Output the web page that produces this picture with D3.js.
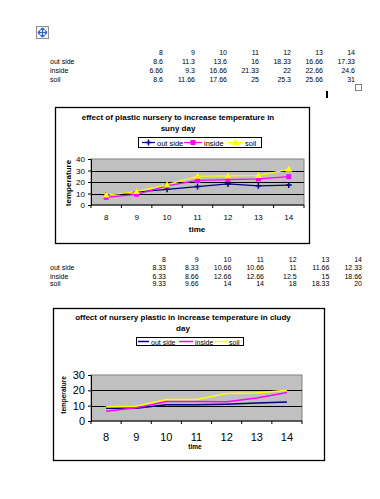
<!DOCTYPE html>
<html>
<head>
<meta charset="utf-8">
<script src="https://cdn.jsdelivr.net/npm/d3@7"></script>
<style>
body { margin: 0; background: #fff; }
svg { display: block; font-family: "Liberation Sans", Arial, sans-serif; }
</style>
</head>
<body>
<script>
const hours = [8, 9, 10, 11, 12, 13, 14];
const seriesNames = ["out side", "inside", "soil"];

// sunny day
const sunnyOutside = [8.6, 11.3, 13.6, 16, 18.33, 16.66, 17.33];
const sunnyInside = [6.66, 9.3, 16.66, 21.33, 22, 22.66, 24.6];
const sunnySoil = [8.6, 11.66, 17.66, 25, 25.3, 25.66, 31];
const sunnyTicks = [0, 10, 20, 30, 40];

// cloudy day
const cloudyOutside = [8.33, 8.33, 10.66, 10.66, 11, 11.66, 12.33];
const cloudyInside = [6.33, 8.66, 12.66, 12.66, 12.5, 15, 18.66];
const cloudySoil = [9.33, 9.66, 14, 14, 18, 18.33, 20];
const cloudyTicks = [0, 10, 20, 30];

const colors = ["#000080", "#ff00ff", "#ffff00"];

const svg = d3.select("body").append("svg")
    .attr("width", 380)
    .attr("height", 499);

// move handle icon
const icon = svg.append("g").attr("transform", "translate(36,26)");
icon.append("rect").attr("x", 0.5).attr("y", 0.5).attr("width", 12).attr("height", 12)
    .attr("fill", "#f4f4f4").attr("stroke", "#909090");
icon.append("path")
    .attr("d", "M6.5,2 V11 M2,6.5 H11 M6.5,2 l-2,2 M6.5,2 l2,2 M6.5,11 l-2,-2 M6.5,11 l2,-2 M2,6.5 l2,-2 M2,6.5 l2,2 M11,6.5 l-2,-2 M11,6.5 l-2,2")
    .attr("stroke", "#2f5fc8").attr("stroke-width", 1.2).attr("fill", "none");

// small resize box + cursor
svg.append("rect").attr("x", 355.5).attr("y", 84.5).attr("width", 6).attr("height", 6)
    .attr("fill", "#fff").attr("stroke", "#808080");
svg.append("rect").attr("x", 326).attr("y", 91).attr("width", 2).attr("height", 7).attr("fill", "#000");

function drawTable(values, x0, x1, ys) {
    const x = d3.scalePoint().domain(hours).range([x0, x1]);
    const g = svg.append("g").style("font-size", "7px").attr("fill", "#000");
    g.selectAll(".hdr").data(hours).enter().append("text")
        .attr("x", d => x(d)).attr("y", ys[0]).attr("text-anchor", "end").text(d => d);
    values.forEach((row, i) => {
        g.append("text").attr("x", 50).attr("y", ys[i + 1]).text(seriesNames[i]);
        g.selectAll(".r" + i).data(row).enter().append("text")
            .attr("x", (d, j) => x(hours[j])).attr("y", ys[i + 1])
            .attr("text-anchor", "end").text(d => d);
    });
}

drawTable([sunnyOutside, sunnyInside, sunnySoil], 163, 355, [54.5, 64, 73, 82]);
drawTable([cloudyOutside, cloudyInside, cloudySoil], 166, 362, [261.5, 270, 278.5, 286]);

function drawChart(c) {
    const g = svg.append("g");
    g.append("rect").attr("x", c.box[0] + 0.5).attr("y", c.box[1] + 0.5)
        .attr("width", c.box[2] - c.box[0]).attr("height", c.box[3] - c.box[1])
        .attr("fill", "#fff").attr("stroke", "#000").attr("stroke-width", 1.3);

    const x = d3.scaleBand().domain(hours).range([c.plot[0], c.plot[2]]);
    const y = d3.scaleLinear().domain([0, d3.max(c.ticks)]).range([c.plot[3], c.plot[1]]);

    g.append("rect").attr("x", c.plot[0]).attr("y", c.plot[1])
        .attr("width", c.plot[2] - c.plot[0]).attr("height", c.plot[3] - c.plot[1])
        .attr("fill", "#c0c0c0").attr("stroke", "#808080");

    g.selectAll(".grid").data(c.ticks.slice(1, -1)).enter().append("line")
        .attr("x1", c.plot[0]).attr("x2", c.plot[2])
        .attr("y1", d => Math.round(y(d)) + 0.5).attr("y2", d => Math.round(y(d)) + 0.5)
        .attr("stroke", "#000").attr("stroke-width", 1.2);

    // axes
    const yAxis = d3.axisLeft(y).tickValues(c.ticks).tickSize(3).tickPadding(3);
    const ya = g.append("g").attr("transform", `translate(${c.plot[0]},0)`).call(yAxis);
    ya.selectAll("text").style("font-size", c.tickFont + "px").attr("fill", "#000");
    ya.select(".domain").attr("stroke", "#000");

    const xa = g.append("g").attr("transform", `translate(0,${c.plot[3]})`);
    xa.append("line").attr("x1", c.plot[0]).attr("x2", c.plot[2]).attr("stroke", "#000");
    const bounds = hours.map(h => x(h)).concat([c.plot[2]]);
    xa.selectAll(".tk").data(bounds).enter().append("line")
        .attr("x1", d => d).attr("x2", d => d).attr("y1", 0).attr("y2", 3).attr("stroke", "#000");
    xa.selectAll(".lb").data(hours).enter().append("text")
        .attr("x", d => x(d) + x.bandwidth() / 2).attr("y", c.xLabelY - c.plot[3])
        .attr("text-anchor", "middle").style("font-size", c.tickFont + "px").text(d => d);

    // titles
    const t = g.append("text").attr("text-anchor", "middle").style("font-weight", "bold")
        .style("font-size", c.titleFont + "px");
    c.title.forEach((line, i) => {
        t.append("tspan").attr("x", c.titleX).attr("y", c.titleY + i * 11).text(line);
    });
    g.append("text").attr("x", c.xTitle[0]).attr("y", c.xTitle[1]).attr("text-anchor", "middle")
        .style("font-weight", "bold").style("font-size", c.axisFont + "px").text("time");
    g.append("text").attr("transform", `translate(${c.yTitle[0]},${c.yTitle[1]}) rotate(-90)`)
        .attr("text-anchor", "middle").style("font-weight", "bold")
        .style("font-size", c.axisFont + "px").text("temperature");

    // lines
    const line = d3.line().x((d, i) => x(hours[i]) + x.bandwidth() / 2).y(d => y(d));
    c.series.forEach((s, k) => {
        g.append("path").datum(s).attr("d", line).attr("fill", "none")
            .attr("stroke", colors[k]).attr("stroke-width", c.lineWidth);
    });

    if (c.markers) {
        c.series.forEach((s, k) => {
            s.forEach((v, i) => drawMarker(g, k, x(hours[i]) + x.bandwidth() / 2, y(v)));
        });
    }

    // legend
    const lg = g.append("g");
    lg.append("rect").attr("x", c.legend.box[0] + 0.5).attr("y", c.legend.box[1] + 0.5)
        .attr("width", c.legend.box[2] - c.legend.box[0]).attr("height", c.legend.box[3] - c.legend.box[1])
        .attr("fill", "#fff").attr("stroke", "#000");
    const ly = (c.legend.box[1] + c.legend.box[3]) / 2 + 0.5;
    c.legend.items.forEach((it, k) => {
        lg.append("line").attr("x1", it[0]).attr("x2", it[1]).attr("y1", ly).attr("y2", ly)
            .attr("stroke", colors[k]).attr("stroke-width", c.lineWidth);
        if (c.markers) drawMarker(lg, k, (it[0] + it[1]) / 2, ly);
        lg.append("text").attr("x", it[2]).attr("y", ly + 3).style("font-size", c.legend.font + "px")
            .text(seriesNames[k]);
    });
}

function drawMarker(g, k, cx, cy) {
    if (k === 0) {
        g.append("path").attr("d", `M${cx - 3},${cy} H${cx + 3} M${cx},${cy - 3} V${cy + 3}`)
            .attr("stroke", colors[0]).attr("stroke-width", 1.5);
    } else if (k === 1) {
        g.append("rect").attr("x", cx - 2.5).attr("y", cy - 2.5).attr("width", 5).attr("height", 5)
            .attr("fill", colors[1]);
    } else {
        g.append("path").attr("d", `M${cx},${cy - 3.5} L${cx + 3.5},${cy + 2.5} L${cx - 3.5},${cy + 2.5} Z`)
            .attr("fill", colors[2]);
    }
}

drawChart({
    box: [55, 107, 309, 243],
    plot: [91, 159, 304, 205],
    ticks: sunnyTicks,
    series: [sunnyOutside, sunnyInside, sunnySoil],
    markers: true,
    lineWidth: 1.2,
    tickFont: 8,
    xLabelY: 220,
    titleFont: 8,
    title: ["effect of plastic nursery to increase temperature in", "suny day"],
    titleX: 178, titleY: 120,
    axisFont: 8,
    xTitle: [197, 232],
    yTitle: [71, 183],
    legend: { box: [138, 137, 261, 147], font: 7.5,
        items: [[142, 155, 157], [184, 202, 204], [228, 243, 245]] }
});

drawChart({
    box: [53, 308, 324, 460],
    plot: [91, 375, 302, 421],
    ticks: cloudyTicks,
    series: [cloudyOutside, cloudyInside, cloudySoil],
    markers: false,
    lineWidth: 1.5,
    tickFont: 11,
    xLabelY: 441,
    titleFont: 8,
    title: ["offect of nursery plastic in increase temperature in cludy", "day"],
    titleX: 183, titleY: 320,
    axisFont: 6.5,
    xTitle: [195, 449],
    yTitle: [66, 395],
    legend: { box: [136, 337, 243, 345], font: 7,
        items: [[138, 149, 151], [179, 193, 195], [214, 227, 229]] }
});
</script>
</body>
</html>
